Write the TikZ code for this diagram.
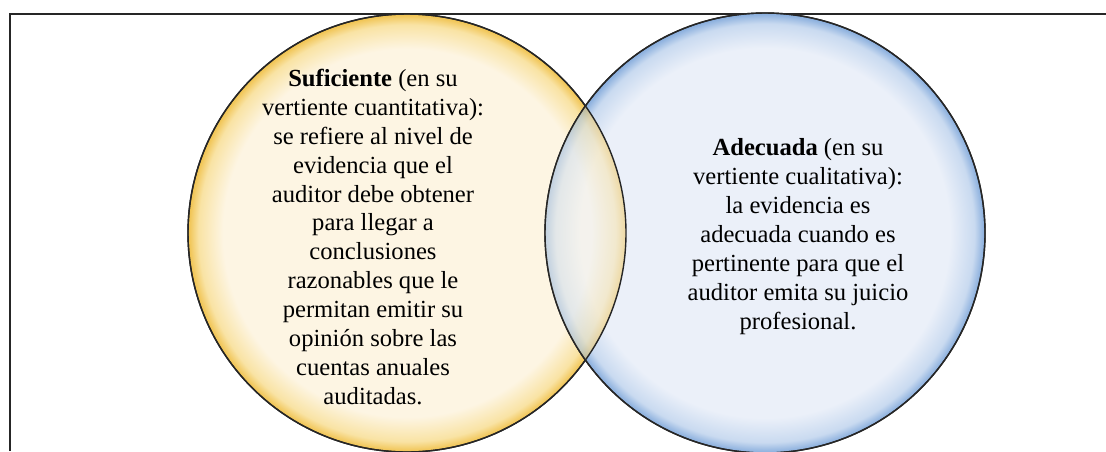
\documentclass[tikz,border=0pt]{standalone}
\usepackage{fontspec}
\setmainfont{Liberation Serif}
\usepackage{xcolor}
\usepackage{tikz}
\usetikzlibrary{positioning,calc}

\definecolor{cream}{HTML}{FDF5E3}
\definecolor{goldmid}{HTML}{F9E3A4}
\definecolor{gold}{HTML}{F0C24E}
\definecolor{paleblue}{HTML}{EBF0F9}
\definecolor{bluemid}{HTML}{C9DAF0}
\definecolor{blueedge}{HTML}{86ACDC}

\pgfdeclareradialshading{goldrim}{\pgfpoint{0bp}{0bp}}{color(0bp)=(cream); color(21bp)=(cream); color(23.8bp)=(goldmid); color(25bp)=(gold); color(50bp)=(gold)}
\pgfdeclareradialshading{bluerim}{\pgfpoint{0bp}{0bp}}{color(0bp)=(paleblue); color(21bp)=(paleblue); color(23.8bp)=(bluemid); color(25bp)=(blueedge); color(50bp)=(blueedge)}

\begin{document}
\begin{tikzpicture}[
    bubble/.style={circle, inner sep=0pt, draw=black!85, line width=0.8pt},
    txt/.style={align=center, font=\fontsize{14}{16.5}\selectfont}
]
\useasboundingbox (0,0) rectangle (22.12,9.02);
% frame, cut at the right and bottom
\draw[line width=1pt, black!85] (0.2,0) -- (0.2,8.74) -- (22.12,8.74);

\node[bubble, minimum size=8.76cm, shading=goldrim] (suf) at (8.14,4.36) {};
\node[bubble, minimum size=8.80cm, shading=bluerim] (ade) at (15.30,4.36) {};

% overlap
\begin{scope}
\clip (ade.center) circle (4.4);
\shade[shading=goldrim, fill opacity=0.5] (suf.center) circle (4.38);
\end{scope}
\draw[black!85, line width=0.8pt] (suf.center) circle (4.38);
\draw[black!85, line width=0.8pt] (ade.center) circle (4.4);

\node[txt] (sufText) at (7.46,4.28) {\textbf{Suficiente} (en su\\vertiente cuantitativa):\\se refiere al nivel de\\evidencia que el\\auditor debe obtener\\para llegar a\\conclusiones\\razonables que le\\permitan emitir su\\opinión sobre las\\cuentas anuales\\auditadas.};
\node[txt] (adeText) at (15.96,4.28) {\textbf{Adecuada} (en su\\vertiente cualitativa):\\la evidencia es\\adecuada cuando es\\pertinente para que el\\auditor emita su juicio\\profesional.};
\end{tikzpicture}
\end{document}
